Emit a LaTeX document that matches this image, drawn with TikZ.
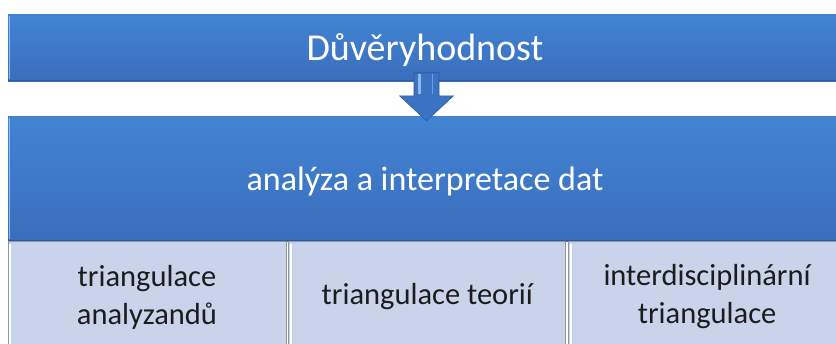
\documentclass[tikz,border=0pt]{standalone}
\usepackage{fontspec}
\setmainfont{Carlito}
\usetikzlibrary{arrows.meta,positioning,calc}
\definecolor{bartop}{HTML}{4284D3}
\definecolor{barbottom}{HTML}{3A6EBC}
\definecolor{barlight}{HTML}{8DBAEF}
\definecolor{bardark}{HTML}{2F5A9C}
\definecolor{arrowblue}{HTML}{3B72C2}
\definecolor{cellfill}{HTML}{C9D4EA}
\definecolor{celledge}{HTML}{8E96A4}
\definecolor{darktext}{HTML}{1C1C1C}

\begin{document}
\begin{tikzpicture}[x=1pt,y=-1pt,
    bar/.style={rectangle, top color=bartop, bottom color=barbottom, text=white, inner sep=0pt, text depth=0pt},
    cellbox/.style={rectangle, fill=cellfill, draw=celledge, line width=0.8pt, text=darktext,
        minimum height=112pt, inner sep=0pt, align=center, font=\fontsize{30.5}{38}\selectfont},
    bevel/.style={barlight, line width=1.6pt},
    shade/.style={bardark, line width=1.2pt}
]
\useasboundingbox (0,0) rectangle (836,343);
\fill[white] (0,0) rectangle (836,343);

\node[bar, minimum width=834pt, minimum height=67pt, font=\fontsize{38}{44}\selectfont] (trust) at (425,47.5) {Důvěryhodnost};
\node[bar, minimum width=834pt, minimum height=125pt, font=\fontsize{34}{40}\selectfont] (analysis) at (425,178.5) {analýza a interpretace dat};

\node[cellbox, minimum width=278pt] (analyzands) at (147,297) {triangulace\\analyzandů};
\node[cellbox, minimum width=277pt, right=2pt of analyzands] (theories) {triangulace teorií};
\node[cellbox, minimum width=277pt, right=2pt of theories] (interdisc) {interdisciplinární\\triangulace};

% bevel edges
\draw[bevel] ([xshift=1.5pt,yshift=-2pt]trust.north west) -- ([xshift=1.5pt,yshift=2pt]trust.south west);
\draw[shade] ([yshift=0.6pt]trust.south west) -- ([yshift=0.6pt]trust.south east);
\draw[bevel] ([xshift=1.5pt,yshift=-2pt]analysis.north west) -- ([xshift=1.5pt,yshift=2pt]analysis.south west);
\draw[shade] ([yshift=0.6pt]analysis.south west) -- ([yshift=0.6pt]analysis.south east);
\foreach \cell in {analyzands,theories,interdisc}
  \draw[white, line width=1.6pt] ([xshift=2.5pt,yshift=-3pt]\cell.north west) -- ([xshift=2.5pt]\cell.south west);

% block arrow between the bars
\coordinate (shafttop) at ([xshift=1.5pt,yshift=8.5pt]trust.south);
\coordinate (tip) at ([xshift=1.5pt,yshift=-5pt]analysis.north);
\filldraw[arrowblue, draw=bardark, line width=0.6pt, line join=miter]
  ($(shafttop)+(-12.5,0)$) -- ($(shafttop)+(12.5,0)$) -- ($(tip)+(12.5,-25)$) -- ($(tip)+(27,-25)$)
  -- (tip) -- ($(tip)+(-27,-25)$) -- ($(tip)+(-12.5,-25)$) -- cycle;
\draw[barlight, line width=2.5pt] ($(shafttop)+(-7,1.5)$) -- ($(tip)+(-7,-27)$);
\draw[barlight!60!arrowblue, line width=1.5pt] ($(shafttop)+(6,1.5)$) -- ($(tip)+(6,-27)$);
\end{tikzpicture}
\end{document}
